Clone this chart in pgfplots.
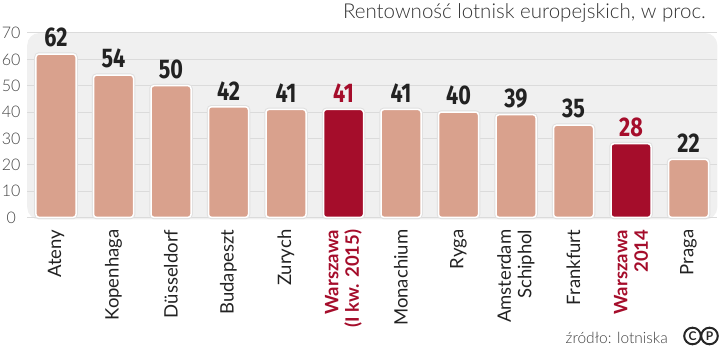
\documentclass[border=0pt]{standalone}
\usepackage{fontspec}
\setmainfont{Lato}[UprightFont={* Light}, BoldFont={* Bold}]
\newfontfamily\regfont{Lato}
\newfontfamily\numfont{Fira Sans}
\usepackage{pgfplots}
\pgfplotsset{compat=1.18}
\definecolor{salmon}{HTML}{D9A18D}
\definecolor{wred}{HTML}{A50D2B}
\definecolor{txt}{HTML}{222222}
\definecolor{tick}{HTML}{444444}
\begin{document}
\begin{tikzpicture}[x=1pt,y=1pt]
\useasboundingbox (0,0) rectangle (720,350);
\begin{axis}[
  at={(27.25pt,130.5pt)}, anchor=south west,
  scale only axis, width=690pt, height=186.5pt,
  xmin=-0.5, xmax=11.5, ymin=-0.8, ymax=70,
  axis line style={draw=none},
  major tick length=0pt,
  axis background/.style={fill=black!6, rounded corners=12pt},
  ytick={0,10,...,70},
  ymajorgrids, grid style={black!14, line width=1pt},
  /pgf/number format/assume math mode=true,
  yticklabel style={font=\fontsize{16}{16}\selectfont, color=tick, anchor=center, xshift=-16pt},
  xtick={0,...,11},
  xticklabels={
    Ateny, Kopenhaga, Düsseldorf, Budapeszt, Zurych,
    {{\bfseries\color{wred}Warszawa}\\{\bfseries\color{wred}(I kw. 2015)}},
    Monachium, Ryga, Amsterdam\\Schiphol, Frankfurt,
    {{\bfseries\color{wred}Warszawa}\\{\bfseries\color{wred}2014}},
    Praga},
  xticklabel style={font=\regfont\fontsize{18.5}{20.5}\selectfont, color=txt, rotate=90, anchor=east, align=right, inner sep=0pt, xshift=-10pt},
  ybar, bar width=40pt,
  nodes near coords={\scalebox{0.8}[1]{\numfont\bfseries\fontsize{27}{27}\selectfont\pgfmathprintnumber{\pgfplotspointmeta}}},
  every node near coord/.append style={anchor=south, inner sep=0pt, yshift=6pt},
]
\addplot[bar shift=0pt, fill=salmon, draw=white, line width=1.5pt, rounded corners=3pt,
  preaction={draw=black!12, line width=3.5pt},
  every node near coord/.append style={color=txt}]
  coordinates {(0,62) (1,54) (2,50) (3,42) (4,41) (6,41) (7,40) (8,39) (9,35) (11,22)};
\addplot[bar shift=0pt, fill=wred, draw=white, line width=1.5pt, rounded corners=3pt,
  preaction={draw=black!12, line width=3.5pt},
  every node near coord/.append style={color=wred}]
  coordinates {(5,41) (10,28)};
\end{axis}
\node[anchor=east, inner sep=0pt, color=black!80, font=\fontsize{20.5}{20.5}\selectfont] at (706,337) {Rentowność lotnisk europejskich, w proc.};
\node[anchor=east, inner sep=0pt, color=black!75, font=\fontsize{15.5}{15.5}\selectfont] at (668,12) {źródło: lotniska};
\draw[black!85, line width=2pt] (692.5,14) circle (8.3);
\draw[black!85, line width=2pt] (709.5,14) circle (8.3);
\node[font=\bfseries\fontsize{12}{12}\selectfont, color=black!85, inner sep=0pt] at (692.5,14) {C};
\node[font=\bfseries\fontsize{12}{12}\selectfont, color=black!85, inner sep=0pt] at (709.5,14) {P};
\end{tikzpicture}
\end{document}
